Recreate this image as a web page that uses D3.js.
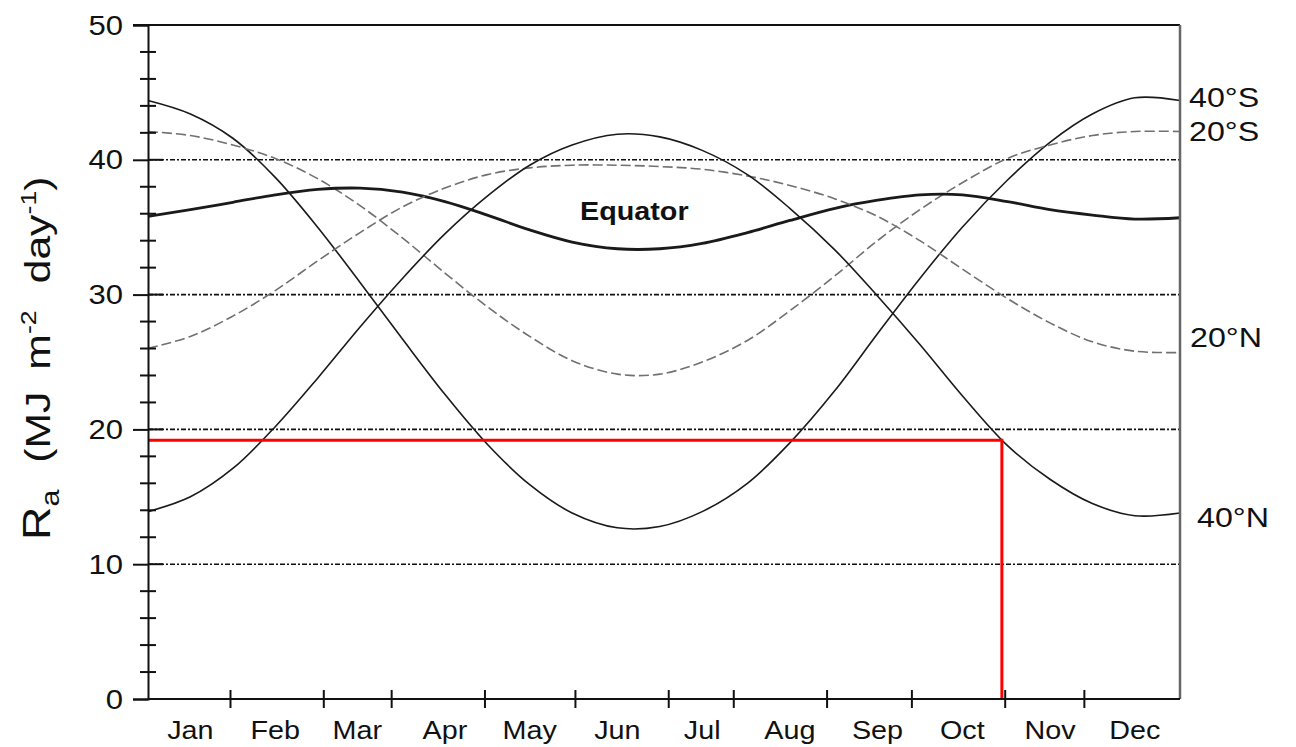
<!DOCTYPE html>
<html>
<head>
<meta charset="utf-8">
<script src="https://cdn.jsdelivr.net/npm/d3@7"></script>
<style>
  html, body { margin: 0; padding: 0; background: #fff; }
  svg { display: block; font-family: "Liberation Sans", Arial, sans-serif; }
</style>
</head>
<body>
<svg id="chart" width="1296" height="747"></svg>
<script>
// Day of year at which each curve is sampled
const days = [0, 15, 30, 45, 60, 75, 90, 105, 120, 135, 150, 166, 181,
              196, 212, 227, 243, 258, 273, 288, 304, 319, 334, 349, 365];

// Extraterrestrial radiation Ra (MJ m-2 day-1)
const ra40S = [44.4, 43.4, 41.6, 38.7, 35.0, 30.9, 26.7, 22.6, 18.9, 15.9, 13.8, 12.7, 12.8,
               13.9, 16.0, 19.0, 22.9, 27.1, 31.2, 35.0, 38.5, 41.3, 43.4, 44.6, 44.4];
const ra20S = [42.1, 41.8, 41.1, 40.1, 38.6, 36.6, 34.2, 31.6, 29.1, 26.9, 25.1, 24.1, 24.1,
               25.0, 26.6, 28.8, 31.4, 34.0, 36.3, 38.3, 40.1, 41.1, 41.8, 42.1, 42.1];
const raEq  = [35.8, 36.3, 36.85, 37.4, 37.8, 37.9, 37.6, 36.9, 35.9, 34.8, 33.9, 33.4, 33.4,
               33.8, 34.6, 35.5, 36.4, 37.0, 37.4, 37.4, 36.9, 36.3, 35.9, 35.6, 35.7];
const ra20N = [26.0, 26.9, 28.4, 30.3, 32.5, 34.6, 36.5, 37.9, 38.9, 39.4, 39.6, 39.6, 39.5,
               39.3, 38.8, 38.1, 37.1, 35.8, 34.0, 31.9, 29.7, 27.9, 26.5, 25.8, 25.7];
const ra40N = [13.9, 15.0, 17.1, 20.2, 23.8, 27.6, 31.2, 34.5, 37.3, 39.6, 41.1, 41.9, 41.7,
               40.7, 38.9, 36.4, 33.3, 29.9, 26.3, 22.5, 18.8, 16.3, 14.5, 13.6, 13.8];

// Month labels (mid-month) and month-boundary tick marks (day of year)
const months = ["Jan", "Feb", "Mar", "Apr", "May", "Jun", "Jul", "Aug", "Sep", "Oct", "Nov", "Dec"];
const monthMid = [15, 45, 74, 105, 135, 166, 196, 227, 258, 288, 319, 349];
const monthTicks = [29, 62, 86, 119, 151, 184, 207, 240, 270, 303, 331];

// Y axis
const yMajor = [0, 10, 20, 30, 40, 50];
const yMinor = [2, 4, 6, 8, 12, 14, 16, 18, 22, 24, 26, 28, 32, 34, 36, 38, 42, 44, 46, 48];
const gridValues = [10, 20, 30, 40];

// Worked reading: day and Ra value traced to the axes
const readDay = 302;
const readRa = 19.2;

const series = [
  { name: "40°S", values: ra40S, kind: "solid" },
  { name: "20°S", values: ra20S, kind: "dashed" },
  { name: "Equator", values: raEq, kind: "thick" },
  { name: "20°N", values: ra20N, kind: "dashed" },
  { name: "40°N", values: ra40N, kind: "solid" }
];

const svg = d3.select("#chart");
const plotLeft = 148, plotRight = 1180, plotTop = 25, plotBottom = 699;
const WIDE = 1.15; // the lettering is set slightly wide

const x = d3.scaleLinear().domain([0, 365]).range([plotLeft, plotRight]);
const y = d3.scaleLinear().domain([0, 50]).range([plotBottom, plotTop]);

// place a text element at (px, py) with widened glyphs
function placeText(sel, px, py, rot, wide) {
  const w = wide || WIDE;
  return sel.attr("transform", (d, i) => {
    const X = typeof px === "function" ? px(d, i) : px;
    const Y = typeof py === "function" ? py(d, i) : py;
    return `translate(${X},${Y})` + (rot ? ` rotate(${rot})` : "") + ` scale(${w},1)`;
  });
}

// Horizontal reference lines
svg.append("g").selectAll("line").data(gridValues).join("line")
  .attr("x1", plotLeft).attr("x2", plotRight)
  .attr("y1", d => y(d)).attr("y2", d => y(d))
  .attr("stroke", "#111").attr("stroke-width", 1.6)
  .attr("stroke-dasharray", "5,2,2,2");

// Curves
const line = d3.line()
  .x((d, i) => x(days[i]))
  .y(d => y(d))
  .curve(d3.curveCatmullRom.alpha(0.5));

svg.append("g").selectAll("path").data(series).join("path")
  .attr("d", d => line(d.values))
  .attr("fill", "none")
  .attr("stroke", d => d.kind === "dashed" ? "#707070" : "#1a1a1a")
  .attr("stroke-width", d => d.kind === "thick" ? 2.8 : 1.6)
  .attr("stroke-dasharray", d => d.kind === "dashed" ? "10,4" : null);

// Red reading lines
svg.append("path")
  .attr("d", `M${x(0)},${y(readRa)}H${x(readDay)}V${y(0)}`)
  .attr("fill", "none").attr("stroke", "#ff0000").attr("stroke-width", 3);

// Frame: top and right edges
svg.append("line").attr("x1", 133).attr("x2", plotRight).attr("y1", plotTop).attr("y2", plotTop)
  .attr("stroke", "#111").attr("stroke-width", 2);
svg.append("line").attr("x1", plotRight).attr("x2", plotRight).attr("y1", plotTop).attr("y2", plotBottom)
  .attr("stroke", "#666").attr("stroke-width", 2.5);

// Left axis
const yAxis = d3.axisLeft(y).tickValues(yMajor).tickSize(15).tickFormat("");
const gy = svg.append("g").attr("transform", `translate(${plotLeft},0)`).call(yAxis);
gy.select(".domain").attr("stroke", "#111").attr("stroke-width", 2);
gy.selectAll(".tick line").attr("stroke", "#111").attr("stroke-width", 2);
// major ticks continue into the plot
svg.append("g").selectAll("line").data(yMajor.filter(v => v > 0 && v < 50)).join("line")
  .attr("x1", plotLeft).attr("x2", plotLeft + 15)
  .attr("y1", d => y(d)).attr("y2", d => y(d))
  .attr("stroke", "#111").attr("stroke-width", 2);
// minor ticks straddle the axis
svg.append("g").selectAll("line").data(yMinor).join("line")
  .attr("x1", plotLeft - 8).attr("x2", plotLeft + 8)
  .attr("y1", d => y(d)).attr("y2", d => y(d))
  .attr("stroke", "#111").attr("stroke-width", 2);
// tick labels
placeText(svg.append("g").selectAll("text").data(yMajor).join("text"),
    plotLeft - 25, d => y(d) + 9.5)
  .attr("text-anchor", "end")
  .attr("font-size", 27).attr("fill", "#111")
  .text(d => d);

// Bottom axis: boundary ticks crossing the line, month names between
const xAxis = d3.axisBottom(x).tickValues(monthTicks).tickSize(9).tickFormat("");
const gx = svg.append("g").attr("transform", `translate(0,${plotBottom})`).call(xAxis);
gx.select(".domain").attr("stroke", "#111").attr("stroke-width", 2).attr("d", `M${plotLeft},0H${plotRight}`);
gx.selectAll(".tick line").attr("stroke", "#111").attr("stroke-width", 2).attr("y1", -9);

placeText(svg.append("g").selectAll("text").data(months).join("text"),
    (d, i) => x(monthMid[i]), 739)
  .attr("text-anchor", "middle")
  .attr("font-size", 25).attr("fill", "#111")
  .text(d => d);

// Latitude labels at the right end of each curve
const endLabels = [
  { text: "40°S", values: ra40S, dy: 7, dx: 9 },
  { text: "20°S", values: ra20S, dy: 10, dx: 9 },
  { text: "20°N", values: ra20N, dy: -6, dx: 10 },
  { text: "40°N", values: ra40N, dy: 14, dx: 17 }
];
placeText(svg.append("g").selectAll("text").data(endLabels).join("text"),
    d => plotRight + d.dx, d => y(d.values[d.values.length - 1]) + d.dy)
  .attr("font-size", 28).attr("fill", "#111")
  .text(d => d.text);

// Equator label
placeText(svg.append("text"), x(172), 220)
  .attr("text-anchor", "middle")
  .attr("font-size", 25).attr("font-weight", "bold").attr("fill", "#111")
  .text("Equator");

// Y axis title, reading upward from its lower end
const title = placeText(svg.append("text"), 50, 540, -90, 1.22)
  .attr("text-anchor", "start")
  .attr("font-size", 35).attr("fill", "#111");
title.append("tspan").attr("font-size", 38).text("R");
title.append("tspan").attr("font-size", 25).attr("dy", 9).text("a");
title.append("tspan").attr("dy", -9).attr("dx", 22).text("(MJ");
title.append("tspan").attr("dx", 18).text("m");
title.append("tspan").attr("font-size", 22).attr("dy", -14).text("-2");
title.append("tspan").attr("dy", 14).attr("dx", 22).text("day");
title.append("tspan").attr("font-size", 22).attr("dy", -14).text("-1");
title.append("tspan").attr("dy", 14).text(")");
</script>
</body>
</html>
